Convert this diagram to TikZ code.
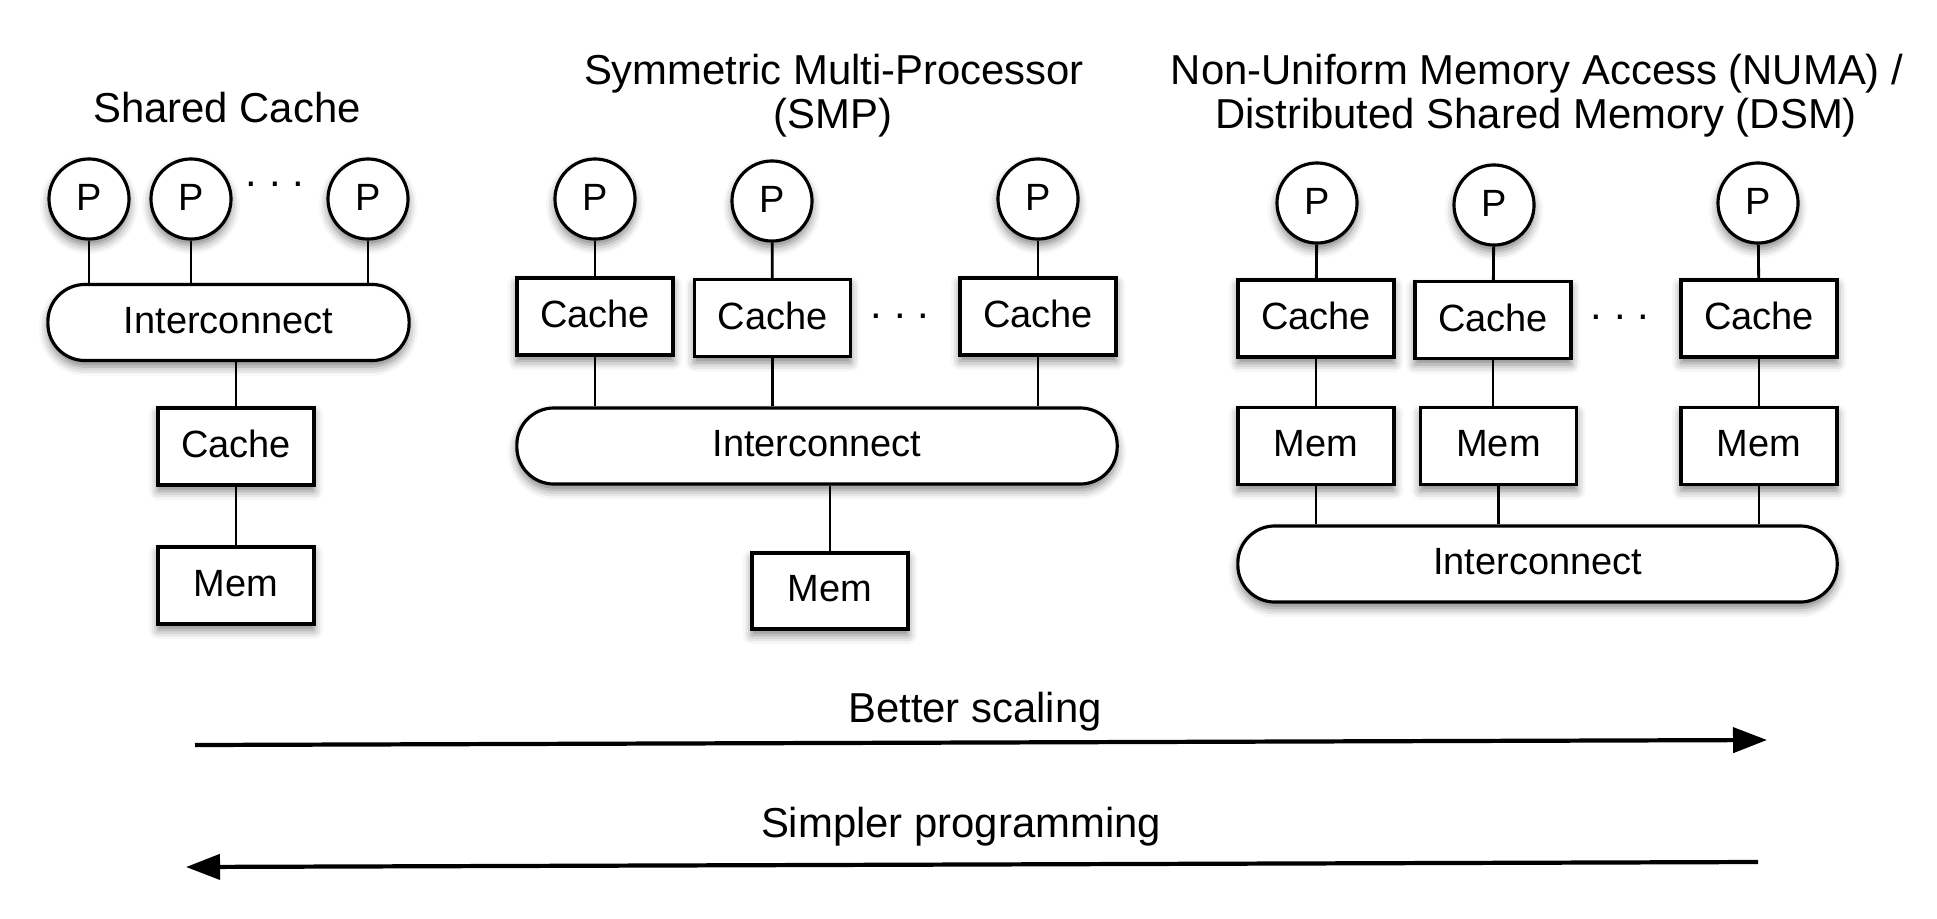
\documentclass[tikz,border=0pt]{standalone}
\usepackage{fontspec}
\setmainfont{Liberation Sans}
\usetikzlibrary{arrows.meta,shadows.blur}

\tikzset{
  softshadow/.style={blur shadow={shadow xshift=0pt,shadow yshift=-0.06cm,shadow blur radius=0.09cm,shadow opacity=50}},
  proc/.style={circle,draw,line width=0.9pt,fill=white,minimum size=0.8cm,inner sep=0pt,
    font=\fontsize{10.8}{12}\selectfont,text depth=0.04cm,softshadow},
  unit/.style={rectangle,draw,line width=0.9pt,fill=white,minimum width=1.56cm,minimum height=0.77cm,
    inner sep=0pt,font=\fontsize{10.8}{12}\selectfont,text depth=0.05cm,softshadow},
  bus/.style={rectangle,draw,line width=0.9pt,fill=white,rounded corners=0.37cm,minimum height=0.76cm,
    inner sep=0pt,font=\fontsize{10.8}{12}\selectfont,text depth=0.05cm,softshadow},
  title/.style={anchor=base,inner sep=0pt,font=\fontsize{11.9}{13}\selectfont},
  wire/.style={line width=0.8pt},
  arr/.style={line width=1.2pt,-{Triangle[length=3.4mm,width=2.5mm]}}
}

\begin{document}
\begin{tikzpicture}[x=0.01cm,y=-0.01cm]
\useasboundingbox (0,0) rectangle (1937,918);

% shared cache
\node[title] (tShared) at (227,122) {Shared Cache};
\node[proc] (pL1) at (89,199) {P};
\node[proc] (pL2) at (191,199) {P};
\node[proc] (pL3) at (368,199) {P};
\node[title] (dotsL) at (275,186) {.\ .\ .};
\node[bus,minimum width=3.61cm] (busL) at (228.5,322.5) {Interconnect};
\node[unit] (cacheL) at (236,446.5) {Cache};
\node[unit] (memL) at (236,585.5) {Mem};
\draw[wire] (pL1) -- (pL1 |- busL.north);
\draw[wire] (pL2) -- (pL2 |- busL.north);
\draw[wire] (pL3) -- (pL3 |- busL.north);
\draw[wire] (cacheL) -- (cacheL |- busL.south);
\draw[wire] (cacheL) -- (memL);

% SMP
\node[title] (tSmpA) at (834,84) {Symmetric Multi-Processor};
\node[title] (tSmpB) at (833,128) {(SMP)};
\node[proc] (pM1) at (595,199) {P};
\node[proc] (pM2) at (772,201) {P};
\node[proc] (pM3) at (1038,199) {P};
\node[unit] (cacheM1) at (595,316.5) {Cache};
\node[unit] (cacheM2) at (772.5,318) {Cache};
\node[unit] (cacheM3) at (1038,316.5) {Cache};
\node[title] (dotsM) at (900,318) {.\ .\ .};
\node[bus,minimum width=6cm] (busM) at (817,446) {Interconnect};
\node[unit,minimum height=0.76cm] (memM) at (830,591) {Mem};
\draw[wire] (pM1) -- (cacheM1);
\draw[wire] (pM2) -- (cacheM2);
\draw[wire] (pM3) -- (cacheM3);
\draw[wire] (cacheM1) -- (cacheM1 |- busM.north);
\draw[wire] (cacheM2) -- (cacheM2 |- busM.north);
\draw[wire] (cacheM3) -- (cacheM3 |- busM.north);
\draw[wire] (memM) -- (memM |- busM.south);

% NUMA / DSM
\node[title] (tNumaA) at (1537,84) {Non-Uniform Memory Access (NUMA) /};
\node[title] (tNumaB) at (1536,128) {Distributed Shared Memory (DSM)};
\node[proc] (pR1) at (1317,203) {P};
\node[proc] (pR2) at (1494,205) {P};
\node[proc] (pR3) at (1758,203) {P};
\node[unit] (cacheR1) at (1316,318.5) {Cache};
\node[unit] (cacheR2) at (1493,320) {Cache};
\node[unit] (cacheR3) at (1759,318.5) {Cache};
\node[title] (dotsR) at (1620,319) {.\ .\ .};
\node[unit] (memR1) at (1316,446) {Mem};
\node[unit] (memR2) at (1498.5,446) {Mem};
\node[unit] (memR3) at (1759,446) {Mem};
\node[bus,minimum width=5.99cm] (busR) at (1537.5,564) {Interconnect};
\draw[wire] (pR1) -- (cacheR1);
\draw[wire] (pR2) -- (cacheR2);
\draw[wire] (pR3) -- (cacheR3);
\draw[wire] (cacheR1) -- (memR1);
\draw[wire] (cacheR2) -- (cacheR2 |- memR2.north);
\draw[wire] (cacheR3) -- (memR3);
\draw[wire] (memR1) -- (memR1 |- busR.north);
\draw[wire] (memR2) -- (memR2 |- busR.north);
\draw[wire] (memR3) -- (memR3 |- busR.north);

% trade-off arrows
\node[title] (tScale) at (975,722) {Better scaling};
\coordinate (scaleA) at (195,745);
\coordinate (scaleB) at (1767,740);
\draw[arr] (scaleA) -- (scaleB);
\node[title] (tProg) at (961,837) {Simpler programming};
\coordinate (progA) at (1758,862);
\coordinate (progB) at (186,867);
\draw[arr] (progA) -- (progB);
\end{tikzpicture}
\end{document}
